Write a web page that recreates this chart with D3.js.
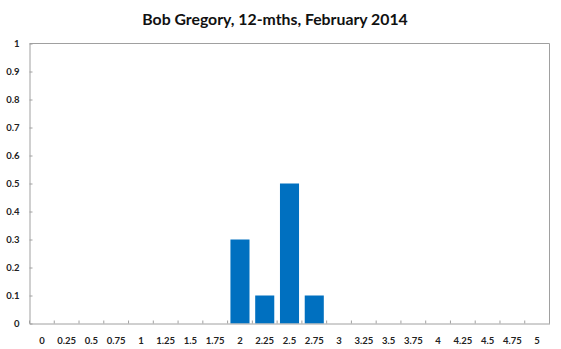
<!DOCTYPE html>
<html><head><meta charset="utf-8">
<script src="https://cdn.jsdelivr.net/npm/d3@7"></script>
<style>body{margin:0;background:#fff}svg{display:block}</style>
</head><body>
<svg id="c" width="561" height="349"></svg>
<script>
const categories = ["0","0.25","0.5","0.75","1","1.25","1.5","1.75","2","2.25","2.5","2.75","3","3.25","3.5","3.75","4","4.25","4.5","4.75","5"];
const values = [0,0,0,0,0,0,0,0,0.3,0.1,0.5,0.1,0,0,0,0,0,0,0,0,0];
const yTicks = [0,0.1,0.2,0.3,0.4,0.5,0.6,0.7,0.8,0.9,1];
const title = "Bob Gregory, 12-mths, February 2014";

const svg = d3.select("#c");
const m = {l:29.5, r:549.5, t:43.5, b:323.5};
const x = d3.scaleBand().domain(categories).range([m.l, m.r]).paddingInner(0.23).paddingOuter(0.115);
const xb = d3.scaleBand().domain(categories).range([m.l, m.r]);
const y = d3.scaleLinear().domain([0,1]).range([m.b, m.t]);
const font = "Lato, 'Open Sans', sans-serif";

svg.append("text").attr("x", 275).attr("y", 25).attr("text-anchor","middle")
  .attr("font-family", font).attr("font-weight","bold").attr("font-size", 15.8).attr("fill","#111").text(title);

// plot border (top/right)
svg.append("path").attr("d", `M${m.l},${m.t}H${m.r}V${m.b}`).attr("fill","none").attr("stroke","#a0a0a0");

svg.append("g").selectAll("rect").data(values).join("rect")
  .attr("x", (d,i)=>x(categories[i])).attr("width", x.bandwidth())
  .attr("y", d=>y(d)).attr("height", d=>m.b - y(d)).attr("fill","#0070C0");

// y axis
const ya = svg.append("g").attr("transform",`translate(${m.l},0)`)
  .call(d3.axisLeft(y).tickValues(yTicks).tickFormat(d3.format("")).tickSizeInner(-3).tickSizeOuter(0).tickPadding(10));
ya.select(".domain").attr("stroke","#a0a0a0");
ya.selectAll(".tick line").attr("stroke","#a0a0a0");
ya.selectAll("text").attr("font-family", font).attr("font-size", 9.5).attr("font-weight","bold").attr("fill","#222");

// x axis
const xa = svg.append("g").attr("transform",`translate(0,${m.b})`)
  .call(d3.axisBottom(xb).tickSize(0).tickPadding(14));
xa.select(".domain").attr("stroke","#a0a0a0");
xa.selectAll("text").attr("font-family", font).attr("font-size", 9.5).attr("font-weight","bold").attr("fill","#222");
// band boundary ticks (inward)
svg.append("g").selectAll("line").data(categories.concat([null])).join("line")
  .attr("x1",(d,i)=> m.l + i*xb.step()).attr("x2",(d,i)=> m.l + i*xb.step())
  .attr("y1", m.b).attr("y2", m.b-3).attr("stroke","#a0a0a0");
</script>
</body></html>
